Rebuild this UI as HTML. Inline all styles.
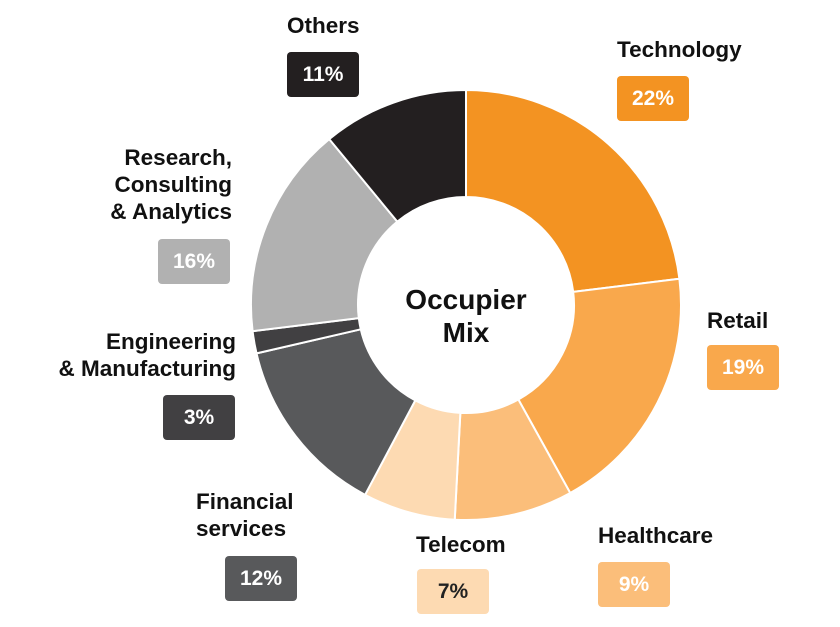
<!DOCTYPE html>
<html><head><meta charset="utf-8"><style>
html,body{margin:0;padding:0;background:#fff;}
body{width:840px;height:627px;position:relative;overflow:hidden;font-family:"Liberation Sans",Arial,sans-serif;}
svg{position:absolute;left:0;top:0;}
.l{position:absolute;font-weight:bold;font-size:22.5px;color:#111;line-height:27px;}
.b{position:absolute;width:72px;height:45px;border-radius:4px;color:#fff;font-weight:bold;font-size:21px;line-height:45px;text-align:center;}
</style></head><body>
<svg id="s" width="840" height="627"></svg>
<div class="l" style="left:287px;top:12px;">Others</div>
<div class="b" style="left:287px;top:52px;background:#231F20">11%</div>
<div class="l" style="left:617px;top:36px;">Technology</div>
<div class="b" style="left:617px;top:76px;background:#F39322">22%</div>
<div class="l" style="left:80px;top:144px;width:152px;text-align:right;">Research,<br>Consulting<br>&amp; Analytics</div>
<div class="b" style="left:158px;top:239px;background:#B1B1B1">16%</div>
<div class="l" style="left:707px;top:307px;">Retail</div>
<div class="b" style="left:707px;top:345px;background:#F9A84C">19%</div>
<div class="l" style="left:20px;top:328px;width:216px;text-align:right;">Engineering<br>&amp; Manufacturing</div>
<div class="b" style="left:163px;top:395px;background:#414042">3%</div>
<div class="l" style="left:196px;top:488px;">Financial<br>services</div>
<div class="b" style="left:225px;top:556px;background:#58595B">12%</div>
<div class="l" style="left:416px;top:531px;">Telecom</div>
<div class="b" style="left:417px;top:569px;background:#FDDAB2;color:#222">7%</div>
<div class="l" style="left:598px;top:522px;">Healthcare</div>
<div class="b" style="left:598px;top:562px;background:#FBBE7A">9%</div>
<div class="l" style="left:396px;top:283px;width:140px;text-align:center;font-size:28px;line-height:33px;">Occupier<br>Mix</div>
<script>
var cx=466,cy=305,R=215,r=108;
var b=[0,83,151,183,208,257,263,320.5,360];
var c=["#F39322","#F9A84C","#FBBE7A","#FDDAB2","#58595B","#414042","#B1B1B1","#231F20"];
function p(a,rad){a=a*Math.PI/180;return [cx+rad*Math.sin(a),cy-rad*Math.cos(a)];}
var h="";
for(var i=0;i<8;i++){var a0=b[i],a1=b[i+1],lg=(a1-a0)>180?1:0;
var A=p(a0,R),B=p(a1,R),C=p(a1,r),D=p(a0,r);
h+='<path d="M'+A+' A'+R+' '+R+' 0 '+lg+' 1 '+B+' L'+C+' A'+r+' '+r+' 0 '+lg+' 0 '+D+' Z" fill="'+c[i]+'" stroke="#fff" stroke-width="2"/>';}
document.getElementById('s').innerHTML=h;
</script>
</body></html>
